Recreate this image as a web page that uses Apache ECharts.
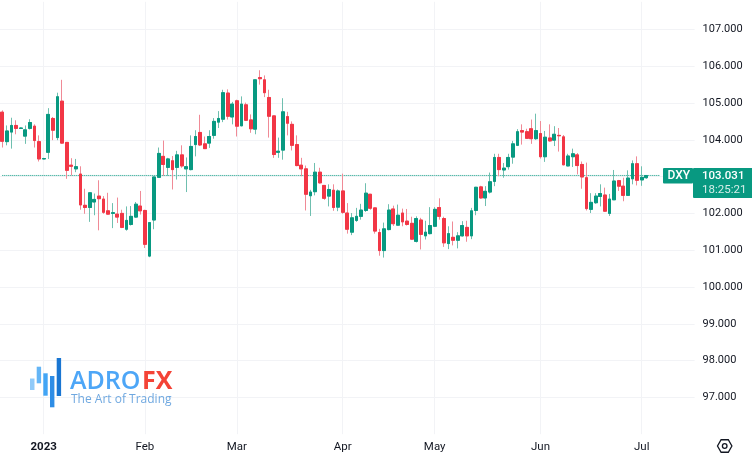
<!DOCTYPE html>
<html>
<head>
<meta charset="utf-8">
<style>html,body{margin:0;padding:0;background:#fff}#c{width:752px;height:457px}</style>
<script src="https://cdn.jsdelivr.net/npm/echarts@6/dist/echarts.min.js"></script>
</head>
<body>
<div id="c"></div>
<script>
const opens=[104.75,103.95,104.21,104.39,104.31,104.10,104.31,104.37,103.95,103.48,103.66,104.58,104.06,105.05,103.93,103.31,103.21,103.07,102.22,102.16,
102.31,102.47,102.39,102.07,102.00,101.98,102.00,101.57,101.70,101.90,102.20,102.08,100.84,101.82,102.98,103.55,103.25,103.43,103.25,103.59,
103.21,103.19,103.87,104.20,103.89,103.91,104.12,104.48,104.56,105.27,104.62,105.06,104.38,104.95,104.54,104.29,105.69,105.63,105.15,104.65,
103.66,103.72,104.63,104.42,103.87,103.31,103.21,102.48,102.59,103.12,102.76,102.47,102.63,102.17,102.61,102.01,101.49,101.81,101.92,102.08,
102.52,102.15,101.48,100.99,101.56,102.12,101.68,102.01,101.79,101.73,101.24,101.82,101.39,101.45,101.65,102.16,101.86,101.18,101.35,101.27,
101.39,101.62,101.39,102.08,102.72,102.42,102.58,102.87,103.52,103.18,103.27,103.53,103.85,104.25,104.22,104.30,104.03,104.17,103.54,104.05,
103.99,104.12,104.08,103.29,103.54,103.59,103.33,102.97,102.11,102.29,102.46,102.50,102.00,102.37,102.89,102.74,102.49,102.94,103.35,102.91,102.97];
const highs=[104.80,104.39,104.60,104.53,104.34,104.39,104.56,104.42,104.12,103.51,104.86,104.62,105.28,105.63,103.94,103.50,103.48,103.28,102.67,102.57,
102.54,102.90,102.47,102.56,102.28,102.43,102.10,102.19,102.20,102.31,102.61,102.10,101.75,102.99,103.79,103.98,103.51,103.56,103.70,103.85,
103.52,104.12,104.26,104.68,104.09,104.26,104.59,104.78,105.36,105.37,105.03,105.09,105.18,105.01,104.69,105.64,105.89,105.75,105.36,104.66,
104.06,105.13,104.76,104.50,104.12,103.51,103.30,102.64,103.37,103.24,102.77,102.79,102.79,102.65,103.08,102.28,102.01,102.15,102.26,102.82,
102.53,102.16,101.58,101.75,102.25,102.21,102.24,102.13,102.12,101.91,101.92,101.88,101.80,102.17,102.17,102.41,101.91,101.65,101.78,101.49,
101.79,101.80,102.15,102.72,102.75,102.74,103.11,103.62,103.62,103.37,103.62,103.97,104.29,104.42,104.30,104.55,104.71,104.51,104.24,104.42,
104.37,104.32,104.13,103.62,103.76,103.64,103.41,103.38,102.55,102.55,102.79,102.70,102.53,103.18,102.91,102.97,103.17,103.44,103.55,103.28,103.04];
const lows=[103.79,103.85,103.76,104.15,104.30,103.89,104.28,103.79,103.41,103.47,103.48,103.99,103.99,103.89,102.94,103.03,103.12,102.10,101.99,101.77,
101.95,101.54,101.99,101.97,101.60,101.74,101.60,101.53,101.67,101.88,101.97,101.06,100.81,101.57,102.97,103.02,103.02,102.65,102.92,103.24,
102.58,103.17,103.55,103.83,103.75,103.78,104.03,104.32,104.48,104.55,104.42,104.09,104.37,104.51,104.19,104.15,105.50,105.16,104.06,103.51,
103.51,103.46,104.12,103.71,103.28,103.01,102.08,101.93,102.49,102.81,102.37,102.19,102.07,102.06,101.99,101.45,101.41,101.77,101.83,102.04,
102.10,101.45,100.85,100.80,101.54,101.66,101.67,101.65,101.67,101.28,101.21,101.02,101.29,101.43,101.63,101.83,101.09,101.03,101.13,101.05,
101.37,101.23,101.30,101.95,102.40,102.20,102.54,102.74,103.01,102.97,103.19,103.35,103.83,103.87,104.03,103.89,104.00,103.49,103.40,103.95,
103.83,103.68,103.31,103.28,103.26,103.06,102.67,102.08,102.01,102.26,102.19,102.04,101.93,102.37,102.61,102.33,102.48,102.79,102.76,102.75,102.94];
const closes=[103.96,104.24,104.39,104.31,104.32,104.27,104.47,103.98,103.48,103.49,104.69,104.26,105.17,103.91,103.17,103.28,103.27,102.23,102.16,102.56,
102.38,102.40,102.03,101.98,102.02,101.90,101.62,101.81,101.92,102.25,102.07,101.16,101.75,102.99,103.63,103.33,103.48,103.19,103.59,103.29,
103.27,103.82,104.09,103.86,103.76,104.09,104.50,104.58,105.28,104.64,104.97,104.37,104.97,104.53,104.30,105.63,105.66,105.28,104.64,103.60,
103.69,104.76,104.45,103.85,103.30,103.21,102.52,102.58,103.12,102.83,102.41,102.65,102.16,102.61,102.03,101.57,101.88,101.92,102.09,102.55,
102.14,101.52,100.99,101.58,102.09,101.72,101.95,101.77,101.70,101.30,101.86,101.43,101.49,101.67,102.11,101.92,101.20,101.45,101.27,101.39,
101.67,101.39,102.07,102.71,102.42,102.60,102.86,103.52,103.19,103.23,103.52,103.89,104.22,104.21,104.04,104.03,104.25,103.54,104.07,103.97,
104.15,104.11,103.32,103.56,103.62,103.30,102.99,102.13,102.30,102.47,102.54,102.06,102.39,102.88,102.74,102.49,102.96,103.35,102.90,102.98,103.03];
const monthLabels={9:'2023',31:'Feb',51:'Mar',74:'Apr',94:'May',117:'Jun',139:'Jul'};
const priceTicks=[97,98,99,100,101,102,104,105,106,107];
const lastPrice=103.031;
const symbolName='DXY', priceText='103.031', timerText='18:25:21';

const GREEN='#089981',RED='#F23645',GREEN_WICK='#6fbfaf',RED_WICK='#f08a96',GRID='#f2f3f6';
const cats=[];for(let i=0;i<151;i++)cats.push(monthLabels[i]||'');
const full=opens.map((o,i)=>[o,closes[i],lows[i],highs[i]]);
const bodies=opens.map((o,i)=>[o,closes[i],Math.min(o,closes[i]),Math.max(o,closes[i])]);
const priceLine=cats.map((c,i)=>i<=143?lastPrice:null);
const chart=echarts.init(document.getElementById('c'),null,{renderer:'canvas'});
const hexCx=724.7,hexCy=446,hexR=7.2;
const hex=[];for(let k=0;k<6;k++){const a=Math.PI/3*k;hex.push([hexCx+hexR*Math.cos(a),hexCy+hexR*Math.sin(a)]);}
const bars=[[30,378.5,4.5,11.5,'#90CAF9'],[36.7,366.7,4.4,16.6,'#64B5F6'],[43.3,373.3,4.4,22.4,'#42A5F5'],[50,376,4.4,31.3,'#2E8DE6'],[56.7,358,4.4,38,'#1976D2']];
const Z=100;
chart.setOption({
  animation:false,
  backgroundColor:'#fff',
  grid:{left:-1.5,width:696.1,top:1.8,height:432.4,containLabel:false},
  xAxis:{type:'category',data:cats,boundaryGap:true,
    axisLine:{show:false},axisTick:{show:false},
    axisLabel:{interval:(i,v)=>v!=='',margin:7,fontFamily:'Roboto',fontSize:11.5,color:'#131722',hideOverlap:false,
      formatter:v=>v==='2023'?'{b|2023}':v,rich:{b:{fontFamily:'Roboto',fontSize:11.5,fontWeight:'bold',color:'#131722'}}},
    splitLine:{show:true,alignWithLabel:true,interval:(i,v)=>v!=='',lineStyle:{color:GRID,width:1}}},
  yAxis:{type:'value',position:'right',min:96,max:107.75,interval:1,
    axisLine:{show:false},axisTick:{show:false},
    axisLabel:{margin:8,fontFamily:'Roboto',fontSize:11,color:'#131722',showMaxLabel:false,
      formatter:v=>priceTicks.indexOf(v)>=0?v.toFixed(3):''},
    splitLine:{show:true,showMinLine:false,showMaxLine:false,lineStyle:{color:GRID,width:1}}},
  series:[
    {type:'line',name:'last',data:priceLine,showSymbol:false,silent:true,z:1,
      itemStyle:{color:GREEN},lineStyle:{color:GREEN,type:[1,1],width:1}},
    {type:'candlestick',name:'wick',data:full,barWidth:3.4,silent:true,
      itemStyle:{color:GREEN_WICK,color0:RED_WICK,borderColor:GREEN_WICK,borderColor0:RED_WICK,borderColorDoji:GREEN_WICK,borderWidth:1}},
    {type:'candlestick',name:'DXY',data:bodies,barWidth:3.4,silent:true,
      itemStyle:{color:GREEN,color0:RED,borderColor:GREEN,borderColor0:RED,borderColorDoji:GREEN,borderWidth:1}}
  ],
  graphic:[
    ...bars.map(b=>({type:'rect',z:Z,silent:true,shape:{x:b[0],y:b[1],width:b[2],height:b[3]},style:{fill:b[4]}})),
    {type:'text',z:Z,silent:true,left:70,top:369,style:{text:'ADRO',font:'600 25px "Open Sans"',fill:'#4DA6F7'}},
    {type:'text',z:Z,silent:true,left:142,top:369,style:{text:'FX',font:'700 25px "Open Sans"',fill:'#F44336'}},
    {type:'text',z:Z,silent:true,left:71,top:394,style:{text:'The Art of Trading',font:'400 12px "Open Sans"',fill:'#6FA8E0'}},
    {type:'rect',z:Z,silent:true,shape:{x:663,y:168,width:30,height:15.5,r:1},style:{fill:GREEN}},
    {type:'rect',z:Z,silent:true,shape:{x:693,y:168,width:59,height:30,r:[1,0,0,1]},style:{fill:GREEN}},
    {type:'text',z:Z+1,silent:true,left:667.5,top:170,style:{text:symbolName,font:'500 12px Roboto',fill:'#fff'}},
    {type:'text',z:Z+1,silent:true,left:702,top:170,style:{text:priceText,font:'500 11.5px Roboto',fill:'#fff'}},
    {type:'text',z:Z+1,silent:true,left:702,top:184,style:{text:timerText,font:'400 11.5px Roboto',fill:'#d6eee9'}},
    {type:'polygon',z:Z,silent:true,shape:{points:hex},style:{fill:'none',stroke:'#131722',lineWidth:1.3}},
    {type:'circle',z:Z,silent:true,shape:{cx:hexCx,cy:hexCy,r:2.3},style:{fill:'none',stroke:'#131722',lineWidth:1.3}}
  ]
});
</script>
</body>
</html>
